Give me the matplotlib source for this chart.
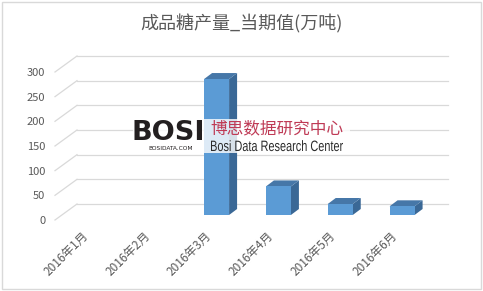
import numpy as np
import matplotlib
matplotlib.use('Agg')
import matplotlib.pyplot as plt
from matplotlib.patches import Polygon, Rectangle, PathPatch
from matplotlib.textpath import TextPath
from matplotlib.font_manager import FontProperties
from matplotlib.transforms import Affine2D

plt.rcParams['font.family'] = ['Noto Sans CJK SC', 'DejaVu Sans']

# monthly output, 10k tonnes (Jan/Feb not reported)
months = ['2016年1月', '2016年2月', '2016年3月', '2016年4月', '2016年5月', '2016年6月']
output = [np.nan, np.nan, 275.6, 57.9, 22.3, 17.6]
yticks = [0, 50, 100, 150, 200, 250, 300]
title = '成品糖产量_当期值(万吨)'

W, H = 483, 291
fig = plt.figure(figsize=(W / 100, H / 100), dpi=100)
fig.patch.set_facecolor('white')

# front plane of the 3d box, in pixels
ax_l, ax_b, ax_w, ax_h = 55, 71, 371, 148
ax = fig.add_axes([ax_l / W, ax_b / H, ax_w / W, ax_h / H])
ax.set_xlim(-0.5, len(months) - 0.5)
ax.set_ylim(0, 300)
ax.patch.set_alpha(0)
for s in ax.spines.values():
    s.set_visible(False)

sx = ax_w / len(months)   # px per category
sy = ax_h / 300.0         # px per unit


def px(dx, dy):
    return dx / sx, dy / sy


grid_col = '#d9d9d9'
txt_col = '#595959'

# side wall diagonals + back wall gridlines
bx, by = px(22, 16)
x0, x1 = -0.5, len(months) - 0.5
for v in yticks:
    ax.plot([x0, x0 + bx], [v, v + by], color=grid_col, lw=0.9, clip_on=False, zorder=1)
    ax.plot([x0 + bx, x1 + bx], [v + by, v + by], color=grid_col, lw=0.9, clip_on=False, zorder=1)

# 3d columns
ox, oy = px(7, 5)
dx, dy = px(8, 6)
bw = 25 / sx
front_c, top_c, side_c = '#5b9bd5', '#4677a8', '#3a6896'
for i, v in enumerate(output):
    if np.isnan(v):
        continue
    l = i - bw / 2 + ox
    r = l + bw
    b = oy
    t = oy + v
    ax.add_patch(Polygon([(r, b), (r + dx, b + dy), (r + dx, t + dy), (r, t)],
                         closed=True, fc=side_c, ec='none', zorder=3, clip_on=False))
    ax.add_patch(Polygon([(l, t), (r, t), (r + dx, t + dy), (l + dx, t + dy)],
                         closed=True, fc=top_c, ec='none', zorder=3, clip_on=False))
    ax.add_patch(Rectangle((l, b), bw, v, fc=front_c, ec='none', zorder=4, clip_on=False))

ax.set_yticks(yticks)
ax.set_yticklabels([str(v) for v in yticks], fontsize=8, color=txt_col)
ax.set_xticks(range(len(months)))
ax.set_xticklabels(months, fontsize=8.5, color=txt_col, rotation=45,
                   ha='right', va='center', rotation_mode='anchor')
ax.tick_params(axis='y', length=0, pad=7)
ax.tick_params(axis='x', length=0, pad=10)

fig.text(0.5, 1 - 24 / H, title, ha='center', va='center', fontsize=13, color=txt_col)

# watermark
fig.patches.append(Rectangle((133 / W, (H - 153) / H), 217 / W, 34 / H,
                             transform=fig.transFigure, fc='white', ec='none',
                             alpha=0.8, zorder=5))
fig.text(132 / W, 1 - 133 / H, 'BOSI', ha='left', va='center', fontsize=19.5,
         fontweight='heavy', family='DejaVu Sans', color='#231f20', zorder=6)
fig.text(171 / W, 1 - 148.5 / H, 'BOSIDATA.COM', ha='center', va='center', fontsize=4.2,
         family='DejaVu Sans', color='#231f20', zorder=6)
fig.text(210 / W, 1 - 129 / H, '博思数据研究中心', ha='left', va='center', fontsize=12,
         color='#bf3a55', zorder=6)

# condensed english line, squeezed horizontally
en = TextPath((0, 0), 'Bosi Data Research Center', size=15,
              prop=FontProperties(family='Liberation Sans'))
ext = en.get_extents()
squeeze = 132 / ext.width
en_patch = PathPatch(en, fc='#2b2b2b', ec='none', zorder=6,
                     transform=Affine2D().translate(-ext.x0, 0).scale(squeeze, 1)
                     .translate(211, H - 151))
fig.add_artist(en_patch)

# chart frame
fig.patches.append(Rectangle((2 / W, 2 / H), (W - 4) / W, (H - 4) / H,
                             transform=fig.transFigure, fc='none', ec=grid_col, lw=1))

fig.savefig('out.png', dpi=100)
